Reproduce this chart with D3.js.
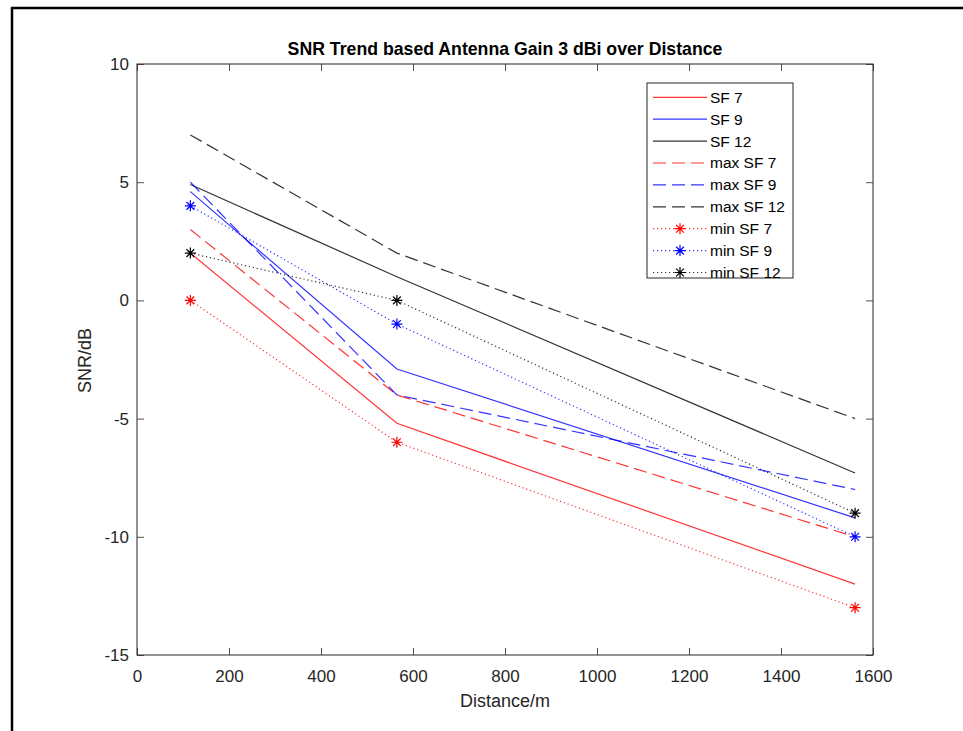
<!DOCTYPE html>
<html>
<head>
<meta charset="utf-8">
<script src="https://cdn.jsdelivr.net/npm/d3@7"></script>
<style>
  html, body { margin: 0; background: #fff; overflow: hidden; }
  svg { display: block; font-family: "Liberation Sans", Arial, sans-serif; }
</style>
</head>
<body>
<div id="chart"></div>
<script>
// Data
const distances = [116, 565, 1561];
const sf7 = [2, -5.2, -12];
const sf9 = [4.6, -2.9, -9.2];
const sf12 = [4.9, 1, -7.3];
const maxSf7 = [3, -4, -10];
const maxSf9 = [5, -4, -8];
const maxSf12 = [7, 2, -5];
const minSf7 = [0, -6, -13];
const minSf9 = [4, -1, -10];
const minSf12 = [2, 0, -9];
const xTicks = [0, 200, 400, 600, 800, 1000, 1200, 1400, 1600];
const yTicks = [-15, -10, -5, 0, 5, 10];

const series = [
  { name: "SF 7", values: sf7, color: "#ff0000", style: "solid" },
  { name: "SF 9", values: sf9, color: "#0000ff", style: "solid" },
  { name: "SF 12", values: sf12, color: "#000000", style: "solid" },
  { name: "max SF 7", values: maxSf7, color: "#ff0000", style: "dashed" },
  { name: "max SF 9", values: maxSf9, color: "#0000ff", style: "dashed" },
  { name: "max SF 12", values: maxSf12, color: "#000000", style: "dashed" },
  { name: "min SF 7", values: minSf7, color: "#ff0000", style: "dotted" },
  { name: "min SF 9", values: minSf9, color: "#0000ff", style: "dotted" },
  { name: "min SF 12", values: minSf12, color: "#000000", style: "dotted" }
];

const dashFor = s => s === "dashed" ? "13,6" : (s === "dotted" ? "1.2,2.8" : null);
const plainNum = d => String(d); // MATLAB uses a hyphen, not a unicode minus

const width = 963, height = 731;
const box = { left: 137, right: 873, top: 64, bottom: 655 };

const svg = d3.select("#chart").append("svg")
  .attr("width", width)
  .attr("height", height);

// figure frame: only the left and top edges fall inside the picture
svg.append("line")
  .attr("x1", 12).attr("x2", 12).attr("y1", 7).attr("y2", height)
  .attr("stroke", "#000").attr("stroke-width", 2.5);
svg.append("line")
  .attr("x1", 11).attr("x2", width).attr("y1", 8).attr("y2", 8)
  .attr("stroke", "#000").attr("stroke-width", 2.5);

const x = d3.scaleLinear().domain([0, 1600]).range([box.left, box.right]);
const y = d3.scaleLinear().domain([-15, 10]).range([box.bottom, box.top]);

// axes
const axisColor = "#262626";
function styleAxis(g) {
  g.select(".domain").remove();
  g.selectAll(".tick line").attr("stroke", axisColor).attr("stroke-width", 0.8);
  g.selectAll(".tick text").attr("fill", "#262626").style("font-size", "17px");
  g.attr("font-family", null).attr("font-size", null);
}

svg.append("g")
  .attr("transform", `translate(0,${box.bottom})`)
  .call(d3.axisBottom(x).tickValues(xTicks).tickSizeInner(-7).tickSizeOuter(0).tickPadding(15).tickFormat(plainNum))
  .call(styleAxis);

svg.append("g")
  .attr("transform", `translate(0,${box.top})`)
  .call(d3.axisTop(x).tickValues(xTicks).tickSizeInner(-7).tickSizeOuter(0).tickFormat(""))
  .call(styleAxis);

svg.append("g")
  .attr("transform", `translate(${box.left},0)`)
  .call(d3.axisLeft(y).tickValues(yTicks).tickSizeInner(-7).tickSizeOuter(0).tickPadding(8).tickFormat(plainNum))
  .call(styleAxis);

svg.append("g")
  .attr("transform", `translate(${box.right},0)`)
  .call(d3.axisRight(y).tickValues(yTicks).tickSizeInner(-7).tickSizeOuter(0).tickFormat(""))
  .call(styleAxis);

// plot box
svg.append("rect")
  .attr("x", box.left).attr("y", box.top)
  .attr("width", box.right - box.left).attr("height", box.bottom - box.top)
  .attr("fill", "none")
  .attr("stroke", axisColor)
  .attr("stroke-width", 1);

// lines
const line = d3.line()
  .x((d, i) => x(distances[i]))
  .y(d => y(d));

function asterisk(g, cx, cy, r, color) {
  const d = r * Math.SQRT1_2;
  const path = `M${cx - r},${cy}L${cx + r},${cy}M${cx},${cy - r}L${cx},${cy + r}` +
    `M${cx - d},${cy - d}L${cx + d},${cy + d}M${cx - d},${cy + d}L${cx + d},${cy - d}`;
  g.append("path").attr("d", path).attr("stroke", color).attr("stroke-width", 1.2).attr("fill", "none");
}

const plot = svg.append("g");
series.forEach(s => {
  plot.append("path")
    .datum(s.values)
    .attr("d", line)
    .attr("fill", "none")
    .attr("stroke", s.color)
    .attr("stroke-opacity", 0.8)
    .attr("stroke-width", 1.2)
    .attr("stroke-dasharray", dashFor(s.style));
  if (s.style === "dotted") {
    s.values.forEach((v, i) => asterisk(plot, x(distances[i]), y(v), 5.5, s.color));
  }
});

// legend
const legX = 647, legY = 83, legW = 146, legH = 195, rowH = 21.9;
const legend = svg.append("g");
legend.append("rect")
  .attr("x", legX).attr("y", legY)
  .attr("width", legW).attr("height", legH)
  .attr("fill", "#fff")
  .attr("stroke", "#262626")
  .attr("stroke-width", 1);

series.forEach((s, i) => {
  const cy = legY + 14.3 + i * rowH;
  legend.append("line")
    .attr("x1", legX + 6).attr("x2", legX + 60)
    .attr("y1", cy).attr("y2", cy)
    .attr("stroke", s.color)
    .attr("stroke-opacity", 0.8)
    .attr("stroke-width", 1.2)
    .attr("stroke-dasharray", dashFor(s.style));
  if (s.style === "dotted") asterisk(legend, legX + 33, cy, 5.5, s.color);
  legend.append("text")
    .attr("x", legX + 63).attr("y", cy)
    .attr("dy", "0.35em")
    .style("font-size", "15.5px")
    .attr("fill", "#000")
    .text(s.name);
});

// title and labels
svg.append("text")
  .attr("x", (box.left + box.right) / 2).attr("y", 55)
  .attr("text-anchor", "middle")
  .style("font-size", "17.7px")
  .style("font-weight", "bold")
  .attr("fill", "#000")
  .text("SNR Trend based Antenna Gain 3 dBi over Distance");

svg.append("text")
  .attr("x", (box.left + box.right) / 2).attr("y", 707)
  .attr("text-anchor", "middle")
  .style("font-size", "18px")
  .attr("fill", "#262626")
  .text("Distance/m");

svg.append("text")
  .attr("transform", `translate(91,${(box.top + box.bottom) / 2 + 1}) rotate(-90)`)
  .attr("text-anchor", "middle")
  .style("font-size", "18px")
  .attr("fill", "#262626")
  .text("SNR/dB");
</script>
</body>
</html>
